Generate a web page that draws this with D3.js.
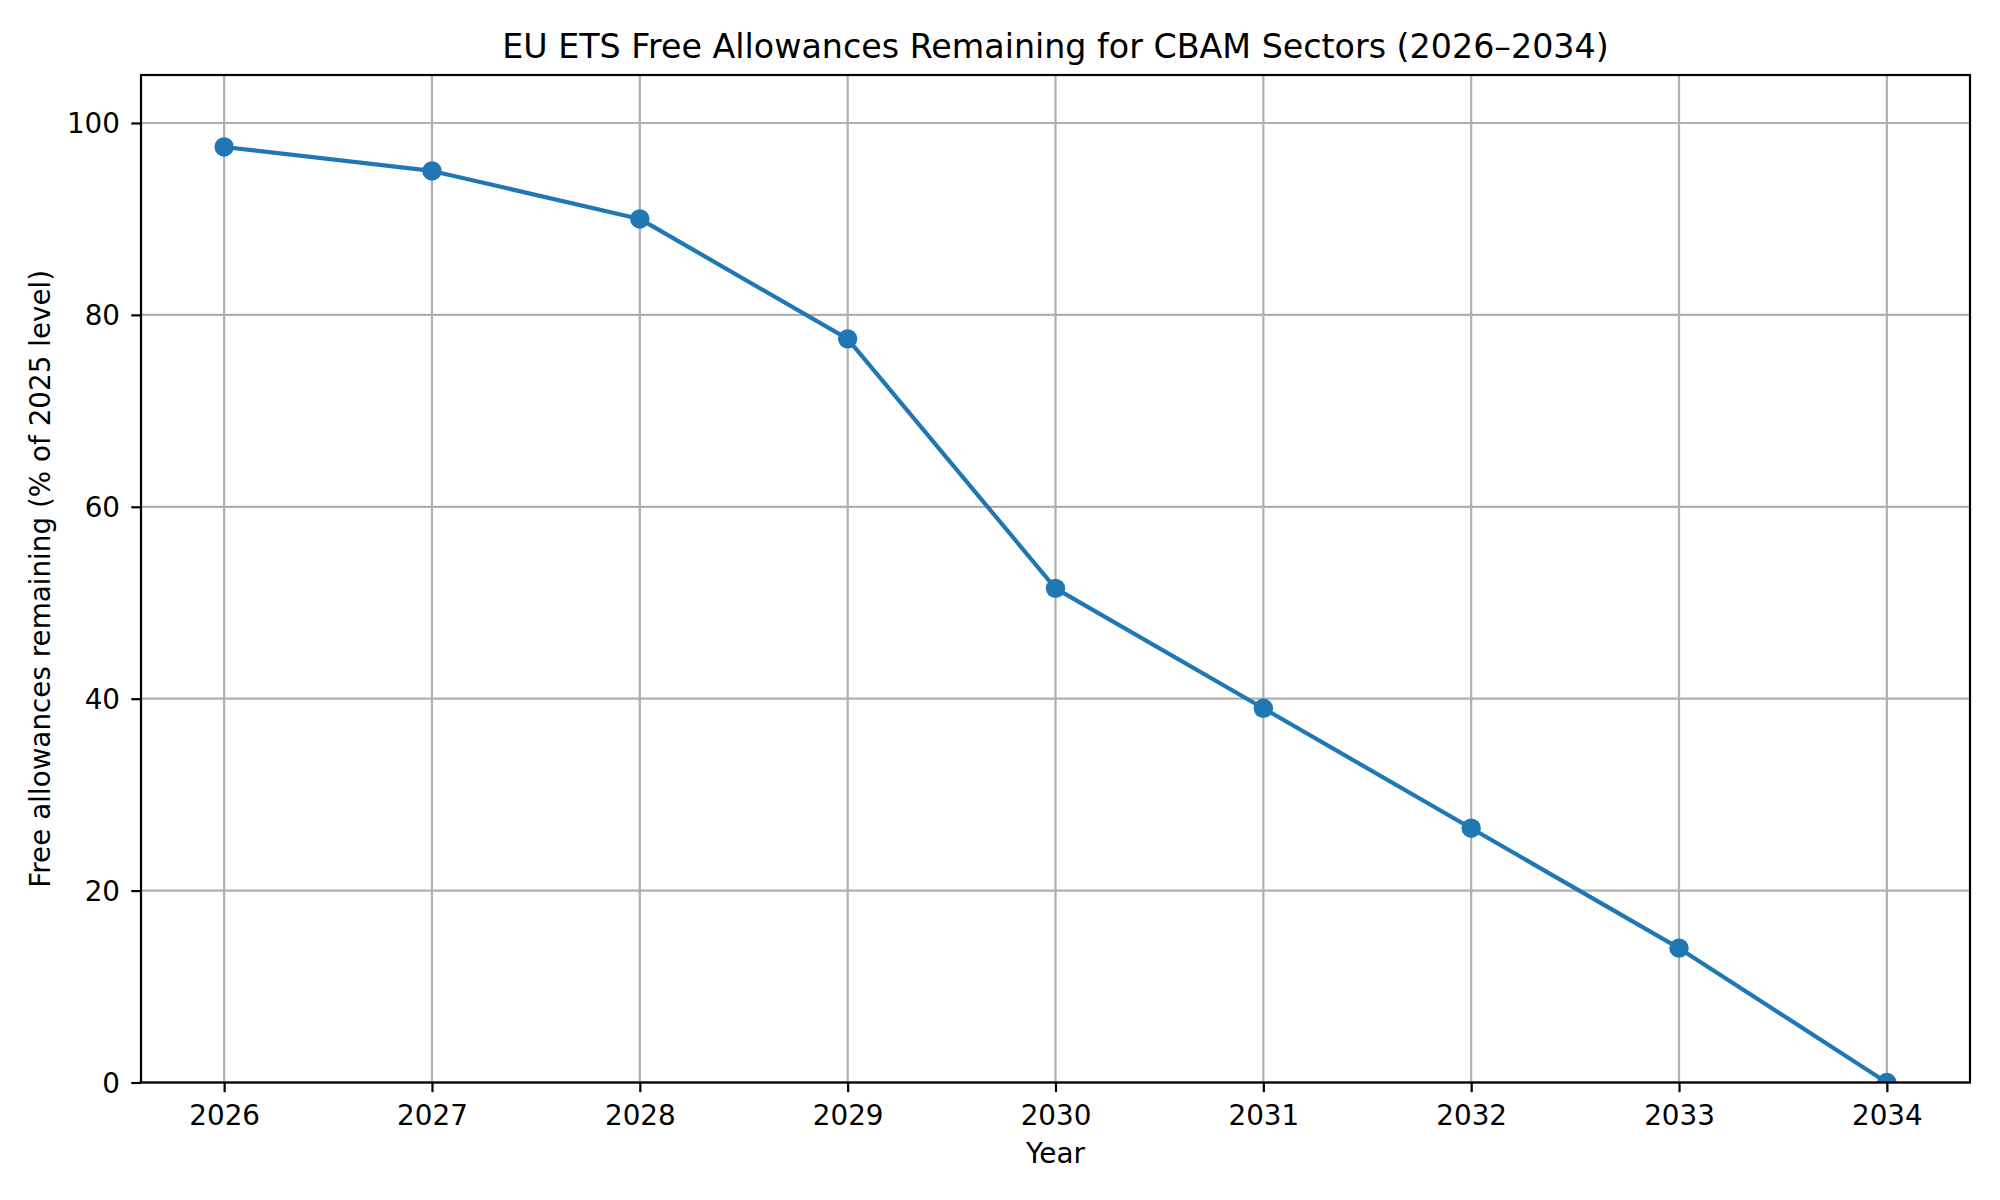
<!DOCTYPE html>
<html>
<head>
<meta charset="utf-8">
<title>EU ETS Free Allowances Remaining</title>
<script src="https://cdn.jsdelivr.net/npm/d3@7"></script>
<style>
    html, body { margin: 0; padding: 0; background: #ffffff; }
    svg { display: block; font-family: "DejaVu Sans", sans-serif; }
</style>
</head>
<body>
<svg id="graph-svg" width="2000" height="1200"></svg>
<script>
'use strict';

/* -- Chart data ------------------------------------------------------------ */
const years = [2026, 2027, 2028, 2029, 2030, 2031, 2032, 2033, 2034];
const remaining = [97.5, 95, 90, 77.5, 51.5, 39, 26.5, 14, 0];
const yTicks = [0, 20, 40, 60, 80, 100];

const titleText = 'EU ETS Free Allowances Remaining for CBAM Sectors (2026\u20132034)';
const xLabelText = 'Year';
const yLabelText = 'Free allowances remaining (% of 2025 level)';

/* -- Line chart function --------------------------------------------------- */
const lineChart = function() {
    const svg = d3.select('#graph-svg');
    const margin = { top: 75, right: 30, bottom: 117.5, left: 141 };
    const svgW = 2000;
    const svgH = 1200;
    const plotW = svgW - margin.left - margin.right;
    const plotH = svgH - margin.top - margin.bottom;
    const tickFont = 27.8;
    const lineColor = '#1f77b4';
    const gridColor = '#b0b0b0';

    const data = years.map(function(y, i) { return { year: y, value: remaining[i] }; });

    /* -- Scales (matplotlib style 5% padding on x) ------------------------- */
    const xPad = (d3.max(years) - d3.min(years)) * 0.05;
    const xScale = d3.scaleLinear()
        .domain([d3.min(years) - xPad, d3.max(years) + xPad])
        .range([margin.left, margin.left + plotW]);

    const yScale = d3.scaleLinear()
        .domain([0, 105])
        .range([margin.top + plotH, margin.top]);

    /* -- Clip path for the plot area --------------------------------------- */
    svg.append('defs').append('clipPath')
        .attr('id', 'plot-clip')
        .append('rect')
        .attr('x', margin.left)
        .attr('y', margin.top)
        .attr('width', plotW)
        .attr('height', plotH);

    /* -- Grid lines --------------------------------------------------------- */
    const grid = svg.append('g').attr('class', 'grid');
    grid.selectAll('line.vgrid')
        .data(years)
        .enter()
        .append('line')
        .attr('class', 'vgrid')
        .attr('x1', function(d) { return xScale(d); })
        .attr('x2', function(d) { return xScale(d); })
        .attr('y1', margin.top)
        .attr('y2', margin.top + plotH)
        .attr('stroke', gridColor)
        .attr('stroke-width', 2.2);
    grid.selectAll('line.hgrid')
        .data(yTicks)
        .enter()
        .append('line')
        .attr('class', 'hgrid')
        .attr('x1', margin.left)
        .attr('x2', margin.left + plotW)
        .attr('y1', function(d) { return yScale(d); })
        .attr('y2', function(d) { return yScale(d); })
        .attr('stroke', gridColor)
        .attr('stroke-width', 2.2);

    /* -- Line and markers --------------------------------------------------- */
    const plotCanvas = svg.append('g').attr('clip-path', 'url(#plot-clip)');
    const line = d3.line()
        .x(function(d) { return xScale(d.year); })
        .y(function(d) { return yScale(d.value); });

    plotCanvas.append('path')
        .datum(data)
        .attr('d', line)
        .attr('fill', 'none')
        .attr('stroke', lineColor)
        .attr('stroke-width', 4.2)
        .attr('stroke-linejoin', 'round')
        .attr('stroke-linecap', 'square');

    plotCanvas.selectAll('circle')
        .data(data)
        .enter()
        .append('circle')
        .attr('cx', function(d) { return xScale(d.year); })
        .attr('cy', function(d) { return yScale(d.value); })
        .attr('r', 9.7)
        .attr('fill', lineColor);

    /* -- X axis ------------------------------------------------------------- */
    const xAxis = d3.axisBottom(xScale)
        .tickValues(years)
        .tickFormat(d3.format('d'))
        .tickSize(9.7)
        .tickPadding(9.7);
    const xAxisElement = svg.append('g')
        .attr('class', 'x axis')
        .attr('transform', 'translate(0,' + (margin.top + plotH) + ')')
        .call(xAxis);
    xAxisElement.select('.domain').remove();
    xAxisElement.selectAll('line').attr('stroke', '#000').attr('stroke-width', 2.2);
    xAxisElement.selectAll('text')
        .attr('font-family', 'DejaVu Sans')
        .attr('font-size', tickFont)
        .attr('fill', '#000')
        .attr('dy', null)
        .attr('y', 42.5);

    /* -- Y axis ------------------------------------------------------------- */
    const yAxis = d3.axisLeft(yScale)
        .tickValues(yTicks)
        .tickSize(9.7)
        .tickPadding(9.7);
    const yAxisElement = svg.append('g')
        .attr('class', 'y axis')
        .attr('transform', 'translate(' + margin.left + ',0)')
        .call(yAxis);
    yAxisElement.select('.domain').remove();
    yAxisElement.selectAll('line').attr('stroke', '#000').attr('stroke-width', 2.2);
    yAxisElement.selectAll('text')
        .attr('font-family', 'DejaVu Sans')
        .attr('font-size', tickFont)
        .attr('fill', '#000')
        .attr('x', -21)
        .attr('dy', '0.36em');

    /* -- Spines ------------------------------------------------------------- */
    svg.append('rect')
        .attr('x', margin.left)
        .attr('y', margin.top)
        .attr('width', plotW)
        .attr('height', plotH)
        .attr('fill', 'none')
        .attr('stroke', '#000')
        .attr('stroke-width', 2.2);

    /* -- Title and axis labels --------------------------------------------- */
    svg.append('text')
        .attr('x', margin.left + plotW / 2)
        .attr('y', 58)
        .attr('text-anchor', 'middle')
        .attr('font-size', 33.3)
        .attr('fill', '#000')
        .text(titleText);

    svg.append('text')
        .attr('x', margin.left + plotW / 2)
        .attr('y', 1163)
        .attr('text-anchor', 'middle')
        .attr('font-size', tickFont)
        .attr('fill', '#000')
        .text(xLabelText);

    svg.append('text')
        .attr('transform', 'translate(50,' + (margin.top + plotH / 2) + ') rotate(-90)')
        .attr('text-anchor', 'middle')
        .attr('font-size', tickFont)
        .attr('fill', '#000')
        .text(yLabelText);
};

lineChart();
</script>
</body>
</html>
